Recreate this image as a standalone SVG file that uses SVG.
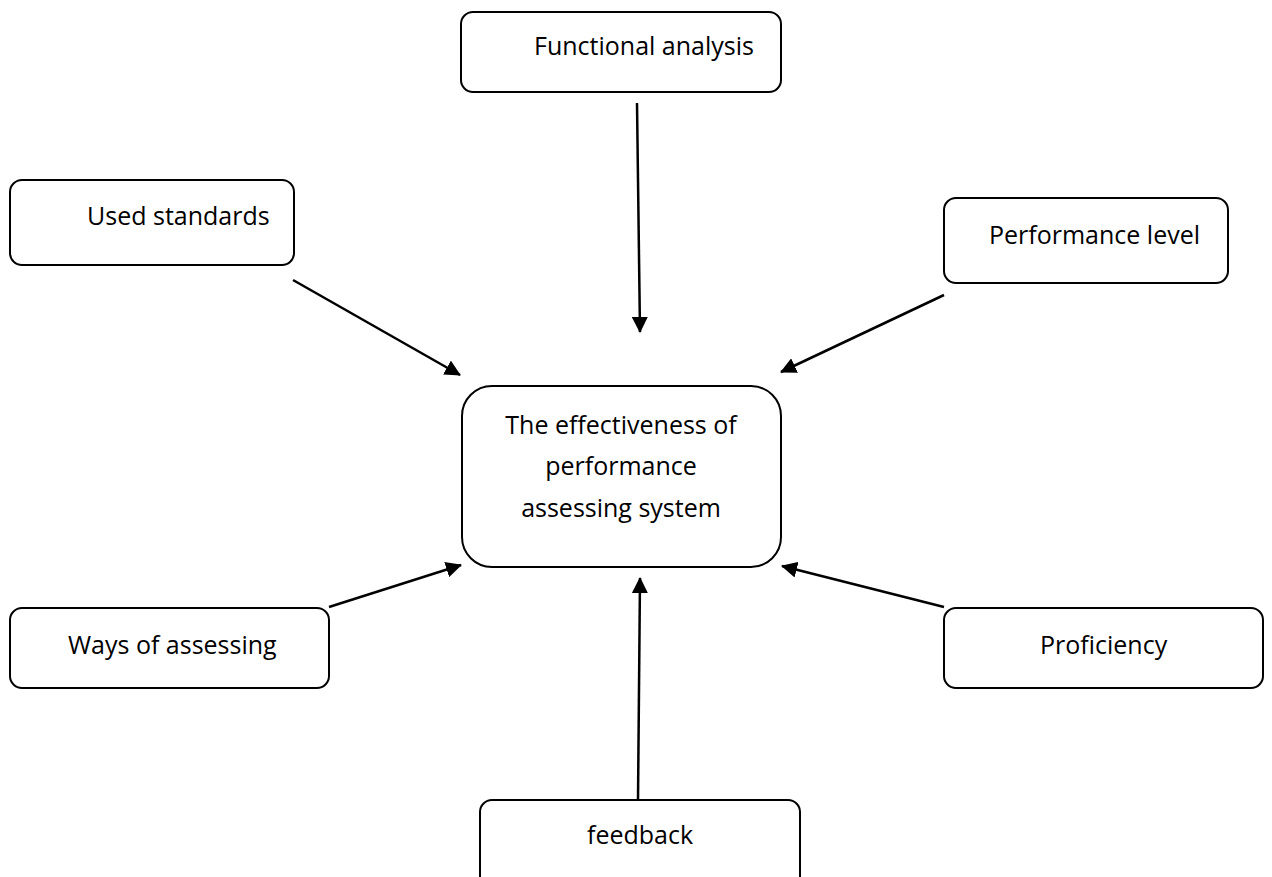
<svg xmlns="http://www.w3.org/2000/svg" width="1272" height="877" viewBox="0 0 1272 877">
<defs>
<style>
.box{fill:#fff;stroke:#000;stroke-width:2}
.t{font-family:"Open Sans","Liberation Sans",sans-serif;font-size:25px;fill:#000}
.c{stroke:#000;stroke-width:2.5;fill:none;marker-end:url(#ah)}
</style>
<marker id="ah" markerWidth="16" markerHeight="16" viewBox="0 0 16 16" refX="15" refY="8" orient="auto" markerUnits="userSpaceOnUse">
<path d="M0,0 L16,8 L0,16 Z" fill="#000"/>
</marker>
</defs>
<rect width="1272" height="877" fill="#fff"/>
<g id="connectors">
<line class="c" x1="637" y1="103" x2="640" y2="332"/>
<line class="c" x1="293" y1="280" x2="460" y2="375"/>
<line class="c" x1="944" y1="295" x2="781" y2="372"/>
<line class="c" x1="329" y1="607" x2="461" y2="565"/>
<line class="c" x1="944" y1="607" x2="782" y2="566"/>
<line class="c" x1="638" y1="800" x2="640" y2="578"/>
</g>
<g id="n-functional">
<rect class="box" x="461" y="12" width="320" height="80" rx="12"/>
<text class="t" x="534" y="55">Functional analysis</text>
</g>
<g id="n-used">
<rect class="box" x="10" y="180" width="284" height="85" rx="12"/>
<text class="t" x="87" y="225">Used standards</text>
</g>
<g id="n-perf">
<rect class="box" x="944" y="198" width="284" height="85" rx="12"/>
<text class="t" x="989" y="244">Performance level</text>
</g>
<g id="n-center">
<rect class="box" x="462" y="386" width="319" height="181" rx="30"/>
<text class="t" text-anchor="middle" x="621" y="434">The effectiveness of</text>
<text class="t" text-anchor="middle" x="621" y="475">performance</text>
<text class="t" text-anchor="middle" x="621" y="517">assessing system</text>
</g>
<g id="n-ways">
<rect class="box" x="10" y="608" width="319" height="80" rx="12"/>
<text class="t" x="68" y="654">Ways of assessing</text>
</g>
<g id="n-prof">
<rect class="box" x="944" y="608" width="319" height="80" rx="12"/>
<text class="t" x="1040" y="654">Proficiency</text>
</g>
<g id="n-feedback">
<rect class="box" x="480" y="800" width="320" height="90" rx="12"/>
<text class="t" x="587" y="844">feedback</text>
</g>
</svg>
